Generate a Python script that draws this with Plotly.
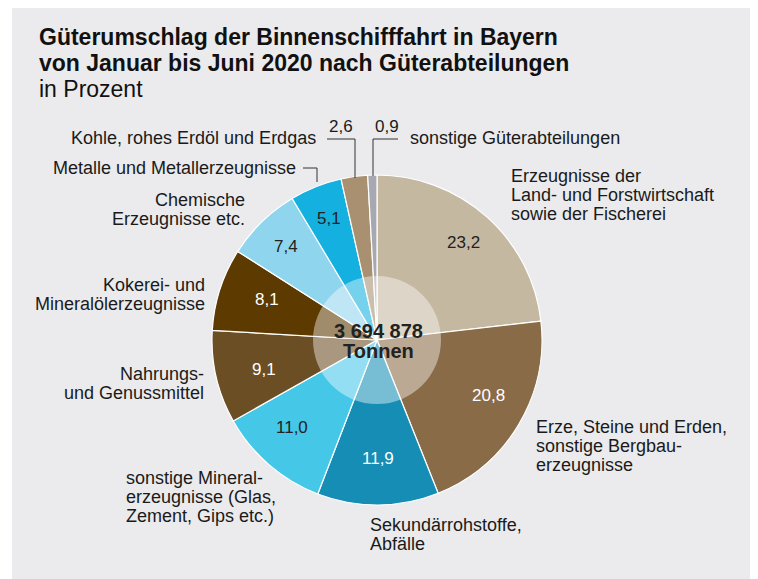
import math
import plotly.graph_objects as go

# ---- data ----
categories = [
    "Erzeugnisse der Land- und Forstwirtschaft sowie der Fischerei",
    "Erze, Steine und Erden, sonstige Bergbauerzeugnisse",
    "Sekundärrohstoffe, Abfälle",
    "sonstige Mineralerzeugnisse (Glas, Zement, Gips etc.)",
    "Nahrungs- und Genussmittel",
    "Kokerei- und Mineralölerzeugnisse",
    "Chemische Erzeugnisse etc.",
    "Metalle und Metallerzeugnisse",
    "Kohle, rohes Erdöl und Erdgas",
    "sonstige Güterabteilungen",
]
values = [23.2, 20.8, 11.9, 11.0, 9.1, 8.1, 7.4, 5.1, 2.6, 0.9]
value_labels = ["23,2", "20,8", "11,9", "11,0", "9,1", "8,1", "7,4", "5,1", "2,6", "0,9"]
colors = ["#C4B8A0", "#8A6B48", "#168DB4", "#45C7E8", "#6B4E24",
          "#5C3A00", "#8FD5EE", "#14B0E0", "#A89070", "#A8A8B0"]
label_colors = ["#222", "#fff", "#fff", "#222", "#fff", "#fff", "#222", "#222", None, None]
total_lines = ["3 694 878", "Tonnen"]

# page body has an 8px margin -> figure is offset by 8px
OFF = 8
W, H = 758, 571
CX, CY, R = 377, 340, 165
RIN = 64
FONT = "Liberation Sans, Arial, Helvetica, sans-serif"
TXT = "#1a1a1a"


def px(x):
    return (x - OFF) / W


def py(y):
    return 1 - (y - OFF) / H


fig = go.Figure()
fig.add_trace(go.Pie(
    labels=categories, values=values, sort=False, direction="clockwise",
    rotation=0, textinfo="none", hoverinfo="label+value",
    marker=dict(colors=colors, line=dict(color="white", width=1.2)),
    domain=dict(x=[px(CX - R), px(CX + R)], y=[py(CY + R), py(CY - R)]),
    showlegend=False,
))

annotations = []
shapes = []

# background panel
shapes.append(dict(type="rect", xref="paper", yref="paper", x0=0, x1=1, y0=0, y1=1,
                   fillcolor="#EBEBED", line_width=0, layer="below"))
shapes.append(dict(type="rect", xref="paper", yref="paper", x0=0, x1=px(12), y0=0, y1=1,
                   fillcolor="white", line_width=0, layer="below"))

# translucent centre circle
shapes.append(dict(type="circle", xref="paper", yref="paper",
                   x0=px(CX - RIN), x1=px(CX + RIN), y0=py(CY + RIN), y1=py(CY - RIN),
                   fillcolor="rgba(255,255,255,0.42)", line_width=0, layer="above"))

# value labels inside slices, from data
tot = sum(values)
cum = 0.0
for v, lab, col in zip(values, value_labels, label_colors):
    mid = (cum + v / 2) / tot * 2 * math.pi
    cum += v
    if col is None:
        continue
    rr = 0.79 * R
    x = CX + rr * math.sin(mid)
    y = CY - rr * math.cos(mid)
    annotations.append(dict(x=px(x), y=py(y), xref="paper", yref="paper", text=lab,
                            showarrow=False, font=dict(size=17, color=col, family=FONT)))

# small-slice value labels
annotations.append(dict(x=px(341), y=py(127), xref="paper", yref="paper", text="2,6",
                        yanchor="middle", showarrow=False,
                        font=dict(size=17, color=TXT, family=FONT)))
annotations.append(dict(x=px(387), y=py(127), xref="paper", yref="paper", text="0,9",
                        yanchor="middle", showarrow=False,
                        font=dict(size=17, color=TXT, family=FONT)))


# leader lines
def line(x0, y0, x1, y1):
    shapes.append(dict(type="line", xref="paper", yref="paper", x0=px(x0), y0=py(y0),
                       x1=px(x1), y1=py(y1), line=dict(color="#333", width=1)))


line(327, 139, 355, 139); line(355, 139, 355, 178)
line(398, 139, 373, 139); line(373, 139, 373, 176)
line(303, 168, 317, 168); line(317, 168, 317, 182)

# centre text
for i, t in enumerate(total_lines):
    annotations.append(dict(x=px(CX + 1), y=py(331 + 20 * i), xref="paper", yref="paper",
                            text="<b>" + t + "</b>", showarrow=False,
                            font=dict(size=20, color="#222", family=FONT)))


# outer labels (one annotation per line for tight leading)
def lab(x, y0, lines, anchor, pitch=18.8):
    for i, t in enumerate(lines):
        annotations.append(dict(x=px(x), y=py(y0 + pitch * i), xref="paper", yref="paper",
                                text=t, xanchor=anchor, yanchor="middle", showarrow=False,
                                font=dict(size=18, color=TXT, family=FONT)))


lab(318, 138, ["Kohle, rohes Erdöl und Erdgas"], "right")
lab(408, 138, ["sonstige Güterabteilungen"], "left")
lab(298, 168, ["Metalle und Metallerzeugnisse"], "right")
lab(247, 200, ["Chemische", "Erzeugnisse etc."], "right")
lab(207, 285, ["Kokerei- und", "Mineralölerzeugnisse"], "right")
lab(206, 374, ["Nahrungs-", "und Genussmittel"], "right")
lab(124, 478, ["sonstige Mineral-", "erzeugnisse (Glas,", "Zement, Gips etc.)"], "left")
lab(368, 525, ["Sekundärrohstoffe,", "Abfälle"], "left")
lab(534, 427, ["Erze, Steine und Erden,", "sonstige Bergbau-", "erzeugnisse"], "left")
lab(509, 176, ["Erzeugnisse der", "Land- und Forstwirtschaft", "sowie der Fischerei"], "left")

# title
title_lines = ["<b>Güterumschlag der Binnenschifffahrt in Bayern</b>",
               "<b>von Januar bis Juni 2020 nach Güterabteilungen</b>",
               "in Prozent"]
for i, t in enumerate(title_lines):
    annotations.append(dict(x=px(37), y=py(37 + 26 * i), xref="paper", yref="paper",
                            xanchor="left", yanchor="middle", showarrow=False, text=t,
                            font=dict(size=23, color="#111", family=FONT)))

fig.update_layout(width=W, height=H, margin=dict(l=0, r=0, t=0, b=0),
                  paper_bgcolor="white", plot_bgcolor="white",
                  shapes=shapes, annotations=annotations, showlegend=False)
fig.write_html("out.html")
